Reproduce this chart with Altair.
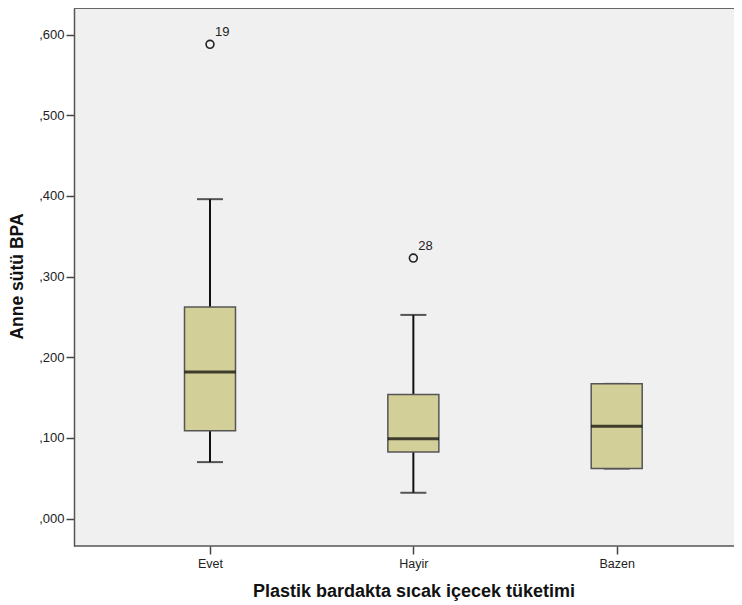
import altair as alt
import pandas as pd

categories = ["Evet", "Hayir", "Bazen"]
whisker_low = [0.070, 0.032, 0.062]
q1 = [0.109, 0.0825, 0.062]
median = [0.1816, 0.099, 0.1144]
q3 = [0.2624, 0.1537, 0.167]
whisker_high = [0.396, 0.2525, 0.167]

outlier_cat = ["Evet", "Hayir"]
outlier_val = [0.588, 0.323]
outlier_id = ["19", "28"]

y_ticks = [0.0, 0.1, 0.2, 0.3, 0.4, 0.5, 0.6]

FONT = "Arial, Liberation Sans, sans-serif"
W, H = 660, 538

box_df = pd.DataFrame({
    "cat": categories,
    "lo": whisker_low,
    "q1": q1,
    "med": median,
    "q3": q3,
    "hi": whisker_high,
})
out_df = pd.DataFrame({"cat": outlier_cat, "val": outlier_val, "id": outlier_id})

xscale = alt.Scale(type="point", domain=categories, range=[136, 542.7], padding=0)
xaxis = alt.Axis(
    labelAngle=0, labelFontSize=12.5, labelColor="#222", labelFont=FONT,
    tickSize=8, tickColor="#444", tickWidth=1.5,
    domain=False, labelPadding=3,
    title="Plastik bardakta sıcak içecek tüketimi", titleFont=FONT,
    titleFontSize=18, titleFontWeight="bold", titleColor="#111",
    titleX=339.5, titleY=45.7, titleAlign="center", titleBaseline="middle",
    grid=False,
)
yscale = alt.Scale(domain=[-0.034, 0.633], nice=False, zero=False)
yaxis = alt.Axis(
    values=y_ticks, labelExpr="replace(format(datum.value, '.3f'), '0.', ',')",
    labelFontSize=13, labelColor="#222", labelFont=FONT, labelPadding=2,
    tickSize=8, tickColor="#444", tickWidth=1.5,
    domainColor="#555", domainWidth=1.5,
    title="Anne sütü BPA", titleFont=FONT, titleFontSize=17.5,
    titleFontWeight="bold", titleColor="#111",
    titleX=-51.5, titleY=268, titleAngle=-90, titleAlign="center",
    titleBaseline="alphabetic", grid=False,
)


def X():
    return alt.X("cat:N", scale=xscale, axis=xaxis, sort=categories)


def Y(field):
    return alt.Y(f"{field}:Q", scale=yscale, axis=yaxis)


base = alt.Chart(box_df)

whisk_lo = base.mark_rule(color="#111", strokeWidth=2).encode(x=X(), y=Y("lo"), y2="q1:Q")
whisk_hi = base.mark_rule(color="#111", strokeWidth=2).encode(x=X(), y=Y("q3"), y2="hi:Q")
cap_lo = base.mark_tick(color="#111", size=26, thickness=2).encode(x=X(), y=Y("lo"))
cap_hi = base.mark_tick(color="#111", size=26, thickness=2).encode(x=X(), y=Y("hi"))
box = base.mark_bar(size=51, fill="#d3cf98", stroke="#555", strokeWidth=1.5).encode(
    x=X(), y=Y("q1"), y2="q3:Q"
)
med = base.mark_tick(color="#000", size=51, thickness=3).encode(x=X(), y=Y("med"))

pts = alt.Chart(out_df).mark_point(
    shape="circle", filled=False, size=62, stroke="#222", strokeWidth=1.6, opacity=1
).encode(x=X(), y=Y("val"))
lbl = alt.Chart(out_df).mark_text(
    align="left", baseline="middle", dx=5, dy=-12, fontSize=13, font=FONT, color="#222"
).encode(x=X(), y=Y("val"), text="id:N")

frame = alt.Data(values=[{"a": 1}])
top_border = alt.Chart(frame).mark_rule(color="#666", strokeWidth=2).encode(
    x=alt.value(0), x2=alt.value(W), y=alt.value(0)
)
bottom_border = alt.Chart(frame).mark_rule(color="#555", strokeWidth=1.5).encode(
    x=alt.value(0), x2=alt.value(W), y=alt.value(H)
)

chart = alt.layer(
    whisk_lo, whisk_hi, cap_lo, cap_hi, box, med, pts, lbl, top_border, bottom_border
).properties(
    width=W, height=H,
    autosize=alt.AutoSizeParams(type="none"),
    padding={"left": 66, "top": 0, "right": 0, "bottom": 60},
    background="white",
).configure_view(stroke=None, fill="#f0f0f0")

chart.save("out.html", embed_options={"renderer": "svg", "actions": False})
